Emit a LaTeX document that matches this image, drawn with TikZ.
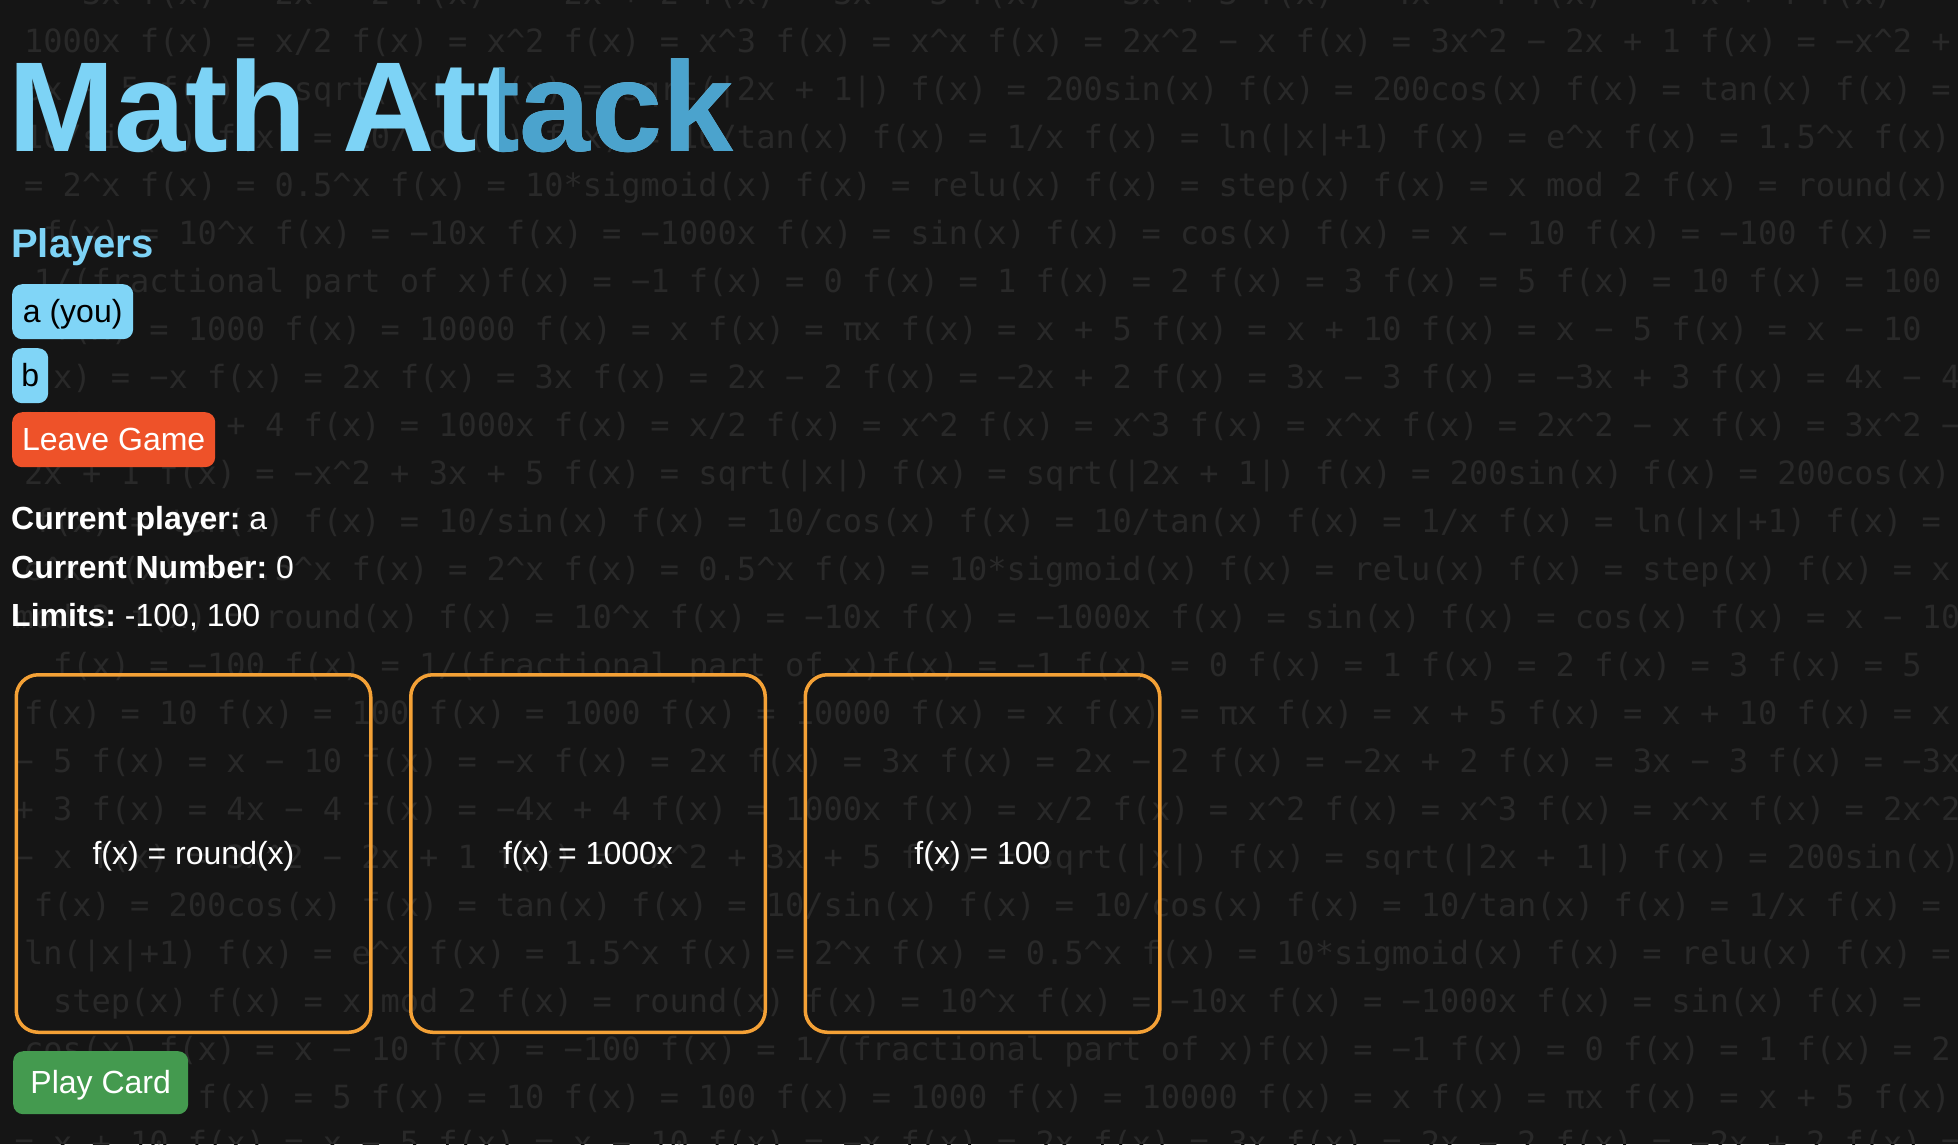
\documentclass[tikz,border=0pt]{standalone}
\usepackage{fontspec}
\setmainfont{Liberation Sans}
\newfontfamily\bgmono{DejaVu Sans Mono}
\newcommand\crt{\textasciicircum}
\definecolor{pagebg}{HTML}{151515}
\definecolor{bgtext}{HTML}{292929}
\definecolor{titlelight}{HTML}{7DD3F6}
\definecolor{titledark}{HTML}{4BA3CD}
\definecolor{chipblue}{HTML}{80D5F7}
\definecolor{leavered}{HTML}{EE5229}
\definecolor{cardorange}{HTML}{F4A136}
\definecolor{playgreen}{HTML}{449A4F}
\frenchspacing
\begin{document}
\begin{tikzpicture}[x=1pt,y=-1pt,
    bgline/.style={anchor=base,inner sep=0pt,text=bgtext,font=\bgmono\fontsize{32}{48}\selectfont},
    titletext/.style={anchor=base west,inner sep=0pt,font=\bfseries\fontsize{128}{132}\selectfont},
    btn/.style={anchor=north west,rounded corners=10pt,inner sep=0pt,text height=22pt,text depth=0pt,font=\fontsize{32}{38}\selectfont},
    card/.style={draw=cardorange,line width=3.5pt,rounded corners=22pt,minimum width=354.5pt,minimum height=357.5pt,
      inner sep=0pt,text=white,text height=22pt,text depth=0pt,font=\fontsize{32}{38}\selectfont},
    info/.style={anchor=base west,inner sep=0pt,text=white,font=\fontsize{32}{38}\selectfont}]
  \fill[pagebg] (0,0) rectangle (1958,1144);
  \useasboundingbox (0,0) rectangle (1958,1144);

  \node[bgline] (l0) at (987.5,4) {= 3x f(x) = 2x − 2 f(x) = −2x + 2 f(x) = 3x − 3 f(x) = −3x + 3 f(x) = 4x − 4 f(x) = −4x + 4 f(x) =};
  \node[bgline] (l1) at (987.5,52) {1000x f(x) = x/2 f(x) = x\crt{}2 f(x) = x\crt{}3 f(x) = x\crt{}x f(x) = 2x\crt{}2 − x f(x) = 3x\crt{}2 − 2x + 1 f(x) = −x\crt{}2 +};
  \node[bgline] (l2) at (987.5,100) {3x + 5 f(x) = sqrt(|x|) f(x) = sqrt(|2x + 1|) f(x) = 200sin(x) f(x) = 200cos(x) f(x) = tan(x) f(x) =};
  \node[bgline] (l3) at (987.5,148) {10/sin(x) f(x) = 10/cos(x) f(x) = 10/tan(x) f(x) = 1/x f(x) = ln(|x|+1) f(x) = e\crt{}x f(x) = 1.5\crt{}x f(x)};
  \node[bgline] (l4) at (987.5,196) {= 2\crt{}x f(x) = 0.5\crt{}x f(x) = 10*sigmoid(x) f(x) = relu(x) f(x) = step(x) f(x) = x mod 2 f(x) = round(x)};
  \node[bgline] (l5) at (987.5,244) {f(x) = 10\crt{}x f(x) = −10x f(x) = −1000x f(x) = sin(x) f(x) = cos(x) f(x) = x − 10 f(x) = −100 f(x) =};
  \node[bgline] (l6) at (987.5,292) {1/(fractional part of x)f(x) = −1 f(x) = 0 f(x) = 1 f(x) = 2 f(x) = 3 f(x) = 5 f(x) = 10 f(x) = 100};
  \node[bgline] (l7) at (987.5,340) {f(x) = 1000 f(x) = 10000 f(x) = x f(x) = πx f(x) = x + 5 f(x) = x + 10 f(x) = x − 5 f(x) = x − 10};
  \node[bgline] (l8) at (987.5,388) {f(x) = −x f(x) = 2x f(x) = 3x f(x) = 2x − 2 f(x) = −2x + 2 f(x) = 3x − 3 f(x) = −3x + 3 f(x) = 4x − 4};
  \node[bgline] (l9) at (987.5,436) {f(x) = −4x + 4 f(x) = 1000x f(x) = x/2 f(x) = x\crt{}2 f(x) = x\crt{}3 f(x) = x\crt{}x f(x) = 2x\crt{}2 − x f(x) = 3x\crt{}2 −};
  \node[bgline] (l10) at (987.5,484) {2x + 1 f(x) = −x\crt{}2 + 3x + 5 f(x) = sqrt(|x|) f(x) = sqrt(|2x + 1|) f(x) = 200sin(x) f(x) = 200cos(x)};
  \node[bgline] (l11) at (987.5,532) {f(x) = tan(x) f(x) = 10/sin(x) f(x) = 10/cos(x) f(x) = 10/tan(x) f(x) = 1/x f(x) = ln(|x|+1) f(x) =};
  \node[bgline] (l12) at (987.5,580) {e\crt{}x f(x) = 1.5\crt{}x f(x) = 2\crt{}x f(x) = 0.5\crt{}x f(x) = 10*sigmoid(x) f(x) = relu(x) f(x) = step(x) f(x) = x};
  \node[bgline] (l13) at (987.5,628) {mod 2 f(x) = round(x) f(x) = 10\crt{}x f(x) = −10x f(x) = −1000x f(x) = sin(x) f(x) = cos(x) f(x) = x − 10};
  \node[bgline] (l14) at (987.5,676) {f(x) = −100 f(x) = 1/(fractional part of x)f(x) = −1 f(x) = 0 f(x) = 1 f(x) = 2 f(x) = 3 f(x) = 5};
  \node[bgline] (l15) at (987.5,724) {f(x) = 10 f(x) = 100 f(x) = 1000 f(x) = 10000 f(x) = x f(x) = πx f(x) = x + 5 f(x) = x + 10 f(x) = x};
  \node[bgline] (l16) at (987.5,772) {− 5 f(x) = x − 10 f(x) = −x f(x) = 2x f(x) = 3x f(x) = 2x − 2 f(x) = −2x + 2 f(x) = 3x − 3 f(x) = −3x};
  \node[bgline] (l17) at (987.5,820) {+ 3 f(x) = 4x − 4 f(x) = −4x + 4 f(x) = 1000x f(x) = x/2 f(x) = x\crt{}2 f(x) = x\crt{}3 f(x) = x\crt{}x f(x) = 2x\crt{}2};
  \node[bgline] (l18) at (987.5,868) {− x f(x) = 3x\crt{}2 − 2x + 1 f(x) = −x\crt{}2 + 3x + 5 f(x) = sqrt(|x|) f(x) = sqrt(|2x + 1|) f(x) = 200sin(x)};
  \node[bgline] (l19) at (987.5,916) {f(x) = 200cos(x) f(x) = tan(x) f(x) = 10/sin(x) f(x) = 10/cos(x) f(x) = 10/tan(x) f(x) = 1/x f(x) =};
  \node[bgline] (l20) at (987.5,964) {ln(|x|+1) f(x) = e\crt{}x f(x) = 1.5\crt{}x f(x) = 2\crt{}x f(x) = 0.5\crt{}x f(x) = 10*sigmoid(x) f(x) = relu(x) f(x) =};
  \node[bgline] (l21) at (987.5,1012) {step(x) f(x) = x mod 2 f(x) = round(x) f(x) = 10\crt{}x f(x) = −10x f(x) = −1000x f(x) = sin(x) f(x) =};
  \node[bgline] (l22) at (987.5,1060) {cos(x) f(x) = x − 10 f(x) = −100 f(x) = 1/(fractional part of x)f(x) = −1 f(x) = 0 f(x) = 1 f(x) = 2};
  \node[bgline] (l23) at (987.5,1108) {f(x) = 3 f(x) = 5 f(x) = 10 f(x) = 100 f(x) = 1000 f(x) = 10000 f(x) = x f(x) = πx f(x) = x + 5 f(x)};
  \node[bgline] (l24) at (987.5,1154) {= x + 10 f(x) = x − 5 f(x) = x − 10 f(x) = −x f(x) = 2x f(x) = 3x f(x) = 2x − 2 f(x) = −2x + 2 f(x) =};

  \node[titletext,text=titlelight] (title) at (8,151) {Math Attack};
  \begin{scope}
    \clip (499,0) rectangle (800,200);
    \node[titletext,text=titledark] (titleshade) at (8,151) {Math Attack};
  \end{scope}
  \node[info,text=titlelight,font=\bfseries\fontsize{40}{44}\selectfont] (players) at (11,257) {Players};

  \node[btn,fill=chipblue,minimum width=121pt,minimum height=55pt] (you) at (12,284) {a (you)};
  \node[btn,fill=chipblue,minimum width=36pt,minimum height=55pt] (other) at (12,348) {b};
  \node[btn,fill=leavered,text=white,minimum width=203pt,minimum height=55pt] (leave) at (12,412) {Leave Game};

  \node[info] (curplayer) at (11,529) {{\bfseries Current player:} a};
  \node[info] (curnumber) at (11,578) {{\bfseries Current Number:} 0};
  \node[info] (limits) at (11,626) {{\bfseries Limits:} -100, 100};

  \node[card] (card1) at (193.5,853.5) {f(x) = round(x)};
  \node[card] (card2) at (588,853.5) {f(x) = 1000x};
  \node[card] (card3) at (982.5,853.5) {f(x) = 100};

  \node[btn,fill=playgreen,text=white,minimum width=175pt,minimum height=63pt] (play) at (13,1051) {Play Card};
\end{tikzpicture}
\end{document}
